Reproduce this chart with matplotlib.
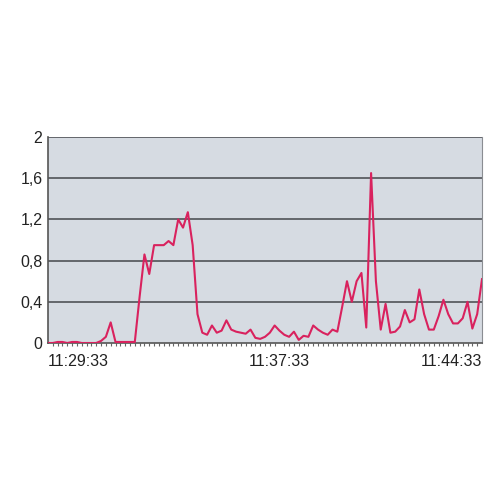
import numpy as np
import matplotlib.pyplot as plt

# one sample every 10 s from 11:29:33 to 11:44:33
seconds = np.arange(0, 910, 10)
values = [
    0, 0, 0.01, 0.01, 0, 0.01, 0.01, 0, 0, 0,
    0, 0.02, 0.06, 0.2, 0.01, 0.01, 0.01, 0.01, 0.01, 0.45,
    0.86, 0.67, 0.95, 0.95, 0.95, 0.99, 0.95, 1.2, 1.12, 1.27,
    0.95, 0.28, 0.1, 0.08, 0.17, 0.1, 0.12, 0.22, 0.13, 0.11,
    0.1, 0.09, 0.13, 0.05, 0.04, 0.06, 0.1, 0.17, 0.12, 0.08,
    0.06, 0.11, 0.03, 0.07, 0.06, 0.17, 0.13, 0.1, 0.08, 0.13,
    0.11, 0.35, 0.6, 0.4, 0.6, 0.68, 0.15, 1.65, 0.6, 0.13,
    0.38, 0.1, 0.11, 0.16, 0.32, 0.2, 0.23, 0.52, 0.28, 0.13,
    0.13, 0.26, 0.42, 0.28, 0.19, 0.19, 0.24, 0.4, 0.14, 0.28,
    0.62,
]
x_tick_pos = [0, 480, 900]
x_tick_labels = ['11:29:33', '11:37:33', '11:44:33']
y_ticks = [0, 0.4, 0.8, 1.2, 1.6, 2]
y_tick_labels = ['0', '0,4', '0,8', '1,2', '1,6', '2']

plt.rcParams['font.family'] = ['Liberation Sans', 'DejaVu Sans']

fig = plt.figure(figsize=(5, 5), dpi=100)
ax = fig.add_axes([0.096, 0.314, 0.868, 0.412])
ax.set_facecolor('#d6dbe2')

# horizontal grid lines
for y in y_ticks[1:]:
    ax.axhline(y, color='#5a5d62', lw=1.3, zorder=1)

ax.plot(seconds, values, color='#d9225e', lw=1.5, zorder=3)

ax.set_xlim(0, 900)
ax.set_ylim(0, 2)
ax.set_yticks(y_ticks)
ax.set_yticklabels(y_tick_labels, fontsize=11.5, color='#222222')
ax.set_xticks(x_tick_pos)
ax.set_xticklabels(x_tick_labels, fontsize=11.5, color='#222222')
for lab, ha in zip(ax.get_xticklabels(), ['left', 'center', 'right']):
    lab.set_ha(ha)
ax.set_xticks(seconds, minor=True)
ax.tick_params(axis='x', which='major', length=0, pad=8)
ax.tick_params(axis='x', which='minor', length=2, width=0.8, color='#666666')
ax.tick_params(axis='y', length=0, pad=4)

for side in ['left', 'bottom']:
    ax.spines[side].set_color('#555555')
    ax.spines[side].set_linewidth(1.2)
ax.spines['right'].set_color('#8a8d92')
ax.spines['top'].set_visible(False)

fig.savefig('out.png', dpi=100, facecolor='white')
